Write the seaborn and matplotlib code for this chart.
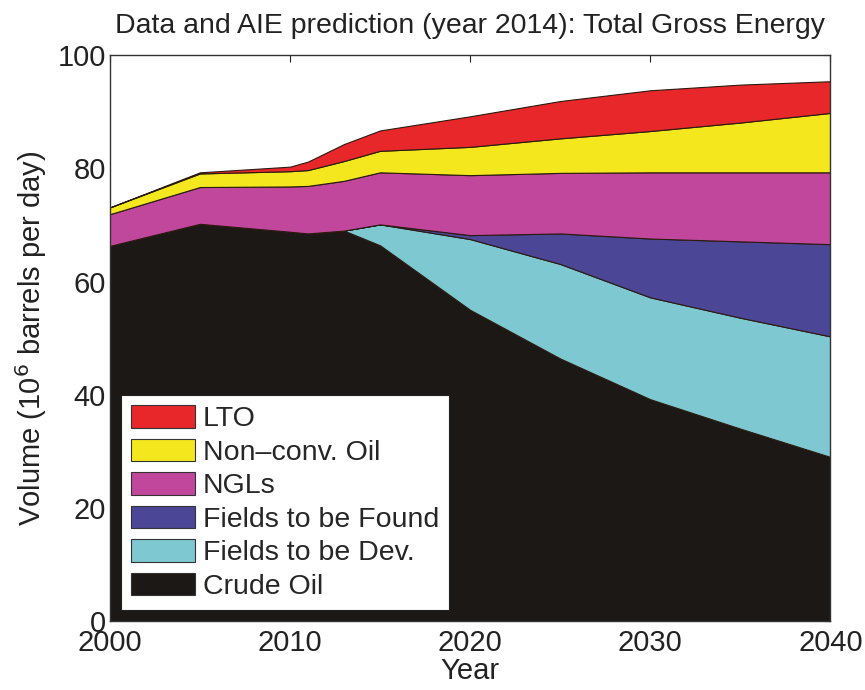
import matplotlib
matplotlib.use("Agg")
import matplotlib.pyplot as plt
from matplotlib.patches import Patch
import seaborn as sns

# Years of the series
years = [2000, 2005, 2010, 2011, 2013, 2015, 2020, 2025, 2030, 2035, 2040]

# Layer thicknesses, 10^6 barrels per day (bottom to top)
crude_oil = [66.3, 70.2, 68.8, 68.5, 69.0, 66.4, 55.0, 46.4, 39.2, 34.0, 29.0]
fields_dev = [0.0, 0.0, 0.0, 0.0, 0.0, 3.7, 12.5, 16.7, 18.0, 19.6, 21.3]
fields_found = [0.0, 0.0, 0.0, 0.0, 0.0, 0.0, 0.7, 5.4, 10.4, 13.5, 16.3]
ngls = [5.6, 6.5, 8.0, 8.4, 8.8, 9.2, 10.6, 10.7, 11.7, 12.2, 12.7]
non_conv = [1.2, 2.4, 2.7, 2.8, 3.5, 3.8, 5.0, 6.1, 7.3, 8.8, 10.5]
lto = [0.0, 0.2, 0.8, 1.5, 3.0, 3.6, 5.4, 6.6, 7.2, 6.7, 5.6]

labels = ["Crude Oil", "Fields to be Dev.", "Fields to be Found",
          "NGLs", "Non\u2013conv. Oil", "LTO"]
colors = ["#1b1815", "#7ec8d1", "#4b4696", "#c0479c", "#f4e71d", "#e8272b"]

sns.set_theme(style="white")
plt.rcParams["font.family"] = ["Liberation Sans", "DejaVu Sans"]
plt.rcParams["axes.edgecolor"] = "#333333"
plt.rcParams["axes.linewidth"] = 1.0

fig = plt.figure(figsize=(8.65, 6.9), dpi=100)
ax = fig.add_axes([0.127, 0.1, 0.833, 0.82])

layers = [crude_oil, fields_dev, fields_found, ngls, non_conv, lto]
ax.stackplot(years, *layers, colors=colors, edgecolor="#2a1a10", linewidth=0.8)

ax.set_xlim(2000, 2040)
ax.set_ylim(0, 100)
ax.set_xticks([2000, 2010, 2020, 2030, 2040])
ax.set_yticks([0, 20, 40, 60, 80, 100])
ax.tick_params(axis="both", which="both", direction="in", length=5, width=0.8,
               top=True, right=True, labelsize=21, colors="#222222")
ax.tick_params(axis="x", pad=6)
ax.tick_params(axis="y", pad=3)
for s in ax.spines.values():
    s.set_visible(True)
    s.set_color("#333333")

ax.set_xlabel("Year", fontsize=21, color="#222222", labelpad=0)
ax.set_ylabel("Volume (10$^6$ barrels per day)", fontsize=21, color="#222222",
              labelpad=6)
ax.set_title("Data and AIE prediction (year 2014): Total Gross Energy",
             fontsize=20.5, color="#222222", pad=16)

handles = [Patch(facecolor=c, edgecolor="#333333", linewidth=0.8)
           for c in colors][::-1]
leg = ax.legend(handles, labels[::-1], loc="lower left",
                bbox_to_anchor=(0.016, 0.02), fontsize=20.5, frameon=True,
                fancybox=False, framealpha=1, edgecolor="#222222",
                handlelength=2.25, handleheight=0.85, handletextpad=0.25,
                labelspacing=0.22, borderpad=0.35, borderaxespad=0)
leg.get_frame().set_linewidth(0.8)

fig.savefig("out.png", dpi=100)
